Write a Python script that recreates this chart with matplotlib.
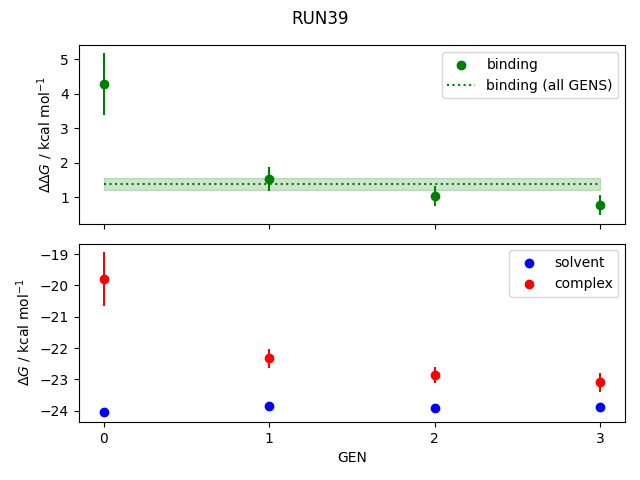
import numpy as np
import matplotlib
matplotlib.use('Agg')
import matplotlib.pyplot as plt

gens = [0, 1, 2, 3]
binding = [4.27, 1.53, 1.04, 0.78]
binding_err = [0.90, 0.35, 0.30, 0.30]
binding_all = 1.39
binding_all_err = 0.17
solvent = [-24.03, -23.85, -23.91, -23.87]
solvent_err = [0.07, 0.06, 0.06, 0.06]
complex_ = [-19.79, -22.33, -22.85, -23.10]
complex_err = [0.87, 0.31, 0.26, 0.30]

fig, axes = plt.subplots(2, 1, sharex=True, figsize=(6.4, 4.8))
fig.suptitle('RUN39')

ax = axes[0]
ax.scatter(gens, binding, color='green', label='binding')
ax.errorbar(gens, binding, yerr=binding_err, color='green', fmt='none')
ax.hlines(binding_all, gens[0], gens[-1], color='green', linestyle=':', label='binding (all GENS)')
ax.fill_between(gens, binding_all - binding_all_err, binding_all + binding_all_err,
                color='green', alpha=0.2)
ax.set_ylabel(r'$\Delta\Delta G$ / kcal mol$^{-1}$')
ax.legend()

ax = axes[1]
ax.scatter(gens, solvent, color='blue', label='solvent')
ax.errorbar(gens, solvent, yerr=solvent_err, color='blue', fmt='none')
ax.scatter(gens, complex_, color='red', label='complex')
ax.errorbar(gens, complex_, yerr=complex_err, color='red', fmt='none')
ax.set_ylabel(r'$\Delta G$ / kcal mol$^{-1}$')
ax.set_xlabel('GEN')
ax.set_xticks(gens)
ax.legend()

fig.subplots_adjust(left=0.123, right=0.977, top=0.906, bottom=0.121, hspace=0.112)
plt.savefig('out.png', dpi=100)
